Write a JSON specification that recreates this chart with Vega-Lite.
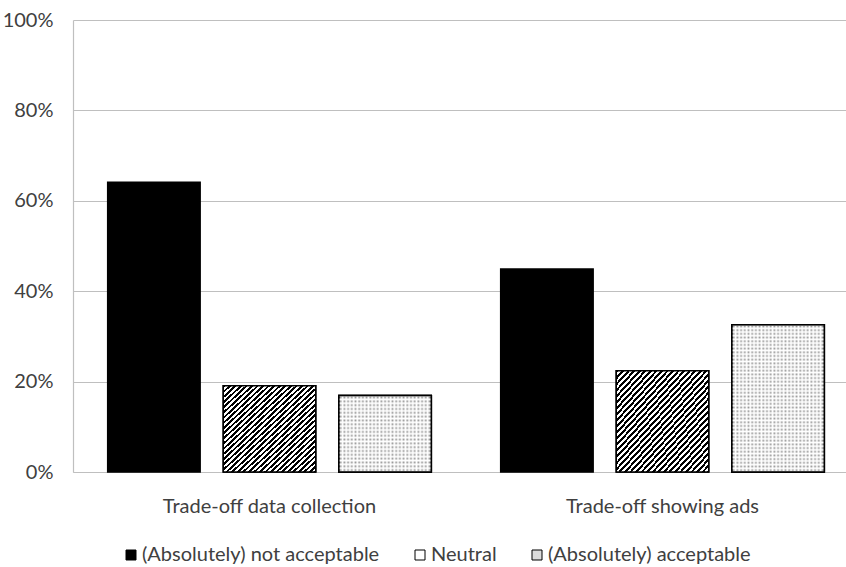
{
  "$schema": "https://vega.github.io/schema/vega-lite/v6.json",
  "width": 773,
  "height": 452,
  "autosize": {"type": "none"},
  "padding": {"left": 73, "top": 20, "right": 0, "bottom": 95},
  "background": "white",
  "config": {
    "view": {"stroke": null},
    "font": "Lato",
    "axis": {"labelFont": "Lato", "labelColor": "#404040", "labelFontSize": 20, "labelLimit": 400, "domainColor": "#bfbfbf", "gridColor": "#bfbfbf", "gridWidth": 1, "domainWidth": 1.2, "ticks": false},
    "legend": {"labelFont": "Lato", "labelColor": "#404040", "labelFontSize": 20, "labelLimit": 400, "padding": 0}
  },
  "data": {
    "values": [
      {"item": "Trade-off data collection", "response": "(Absolutely) not acceptable", "share": 0.641},
      {"item": "Trade-off data collection", "response": "Neutral", "share": 0.191},
      {"item": "Trade-off data collection", "response": "(Absolutely) acceptable", "share": 0.169},
      {"item": "Trade-off showing ads", "response": "(Absolutely) not acceptable", "share": 0.449},
      {"item": "Trade-off showing ads", "response": "Neutral", "share": 0.224},
      {"item": "Trade-off showing ads", "response": "(Absolutely) acceptable", "share": 0.326}
    ]
  },
  "encoding": {
    "x": {
      "field": "item", "type": "nominal", "sort": null, "title": null,
      "scale": {"range": [0, 786], "paddingInner": 0, "paddingOuter": 0},
      "axis": {"labelAngle": 0, "labelPadding": 24, "grid": false, "domain": true}
    },
    "xOffset": {
      "field": "response", "type": "nominal", "sort": null,
      "scale": {"domain": ["(Absolutely) not acceptable", "Neutral", "(Absolutely) acceptable"], "paddingInner": 0.2, "paddingOuter": 0.3}
    },
    "y": {
      "field": "share", "type": "quantitative", "title": null,
      "scale": {"domain": [0, 1], "nice": false},
      "axis": {"values": [0, 0.2, 0.4, 0.6, 0.8, 1], "format": ".0%", "grid": true, "domain": true, "labelPadding": 20}
    }
  },
  "layer": [
    {
      "mark": {"type": "bar", "strokeWidth": 1.5},
      "encoding": {
        "fill": {
          "field": "response", "type": "nominal",
          "scale": {"domain": ["(Absolutely) not acceptable", "Neutral", "(Absolutely) acceptable"], "range": ["black", "white", "#dcdcdc"]},
          "legend": {
            "orient": "none", "direction": "horizontal", "legendX": 48, "legendY": 525,
            "title": null, "symbolType": "square", "symbolSize": 100,
            "symbolStrokeWidth": 1, "symbolOpacity": 1,
            "labelOffset": 1, "columnPadding": 30
          }
        },
        "stroke": {
          "field": "response", "type": "nominal",
          "scale": {"domain": ["(Absolutely) not acceptable", "Neutral", "(Absolutely) acceptable"], "range": ["black", "black", "black"]},
          "legend": {
            "orient": "none", "direction": "horizontal", "legendX": 48, "legendY": 525,
            "title": null, "symbolType": "square", "symbolSize": 100,
            "symbolStrokeWidth": 1, "symbolOpacity": 1,
            "labelOffset": 1, "columnPadding": 30
          }
        }
      }
    },
    {
      "transform": [{"filter": "datum.response === 'Neutral'"}],
      "mark": {"type": "bar", "stroke": "black", "strokeWidth": 1.5,
        "fill": {"gradient": "linear", "x1": 0, "y1": 0, "x2": 1, "y2": 1, "stops": [
          {"offset": 0, "color": "black"}, {"offset": 0.015, "color": "black"}, {"offset": 0.015, "color": "white"}, {"offset": 0.03, "color": "white"},
          {"offset": 0.03, "color": "black"}, {"offset": 0.045, "color": "black"}, {"offset": 0.045, "color": "white"}, {"offset": 0.06, "color": "white"},
          {"offset": 0.06, "color": "black"}, {"offset": 0.075, "color": "black"}, {"offset": 0.075, "color": "white"}, {"offset": 0.09, "color": "white"},
          {"offset": 0.09, "color": "black"}, {"offset": 0.105, "color": "black"}, {"offset": 0.105, "color": "white"}, {"offset": 0.12, "color": "white"},
          {"offset": 0.12, "color": "black"}, {"offset": 0.135, "color": "black"}, {"offset": 0.135, "color": "white"}, {"offset": 0.15, "color": "white"},
          {"offset": 0.15, "color": "black"}, {"offset": 0.165, "color": "black"}, {"offset": 0.165, "color": "white"}, {"offset": 0.18, "color": "white"},
          {"offset": 0.18, "color": "black"}, {"offset": 0.195, "color": "black"}, {"offset": 0.195, "color": "white"}, {"offset": 0.21, "color": "white"},
          {"offset": 0.21, "color": "black"}, {"offset": 0.225, "color": "black"}, {"offset": 0.225, "color": "white"}, {"offset": 0.24, "color": "white"},
          {"offset": 0.24, "color": "black"}, {"offset": 0.255, "color": "black"}, {"offset": 0.255, "color": "white"}, {"offset": 0.27, "color": "white"},
          {"offset": 0.27, "color": "black"}, {"offset": 0.285, "color": "black"}, {"offset": 0.285, "color": "white"}, {"offset": 0.3, "color": "white"},
          {"offset": 0.3, "color": "black"}, {"offset": 0.315, "color": "black"}, {"offset": 0.315, "color": "white"}, {"offset": 0.33, "color": "white"},
          {"offset": 0.33, "color": "black"}, {"offset": 0.345, "color": "black"}, {"offset": 0.345, "color": "white"}, {"offset": 0.36, "color": "white"},
          {"offset": 0.36, "color": "black"}, {"offset": 0.375, "color": "black"}, {"offset": 0.375, "color": "white"}, {"offset": 0.39, "color": "white"},
          {"offset": 0.39, "color": "black"}, {"offset": 0.405, "color": "black"}, {"offset": 0.405, "color": "white"}, {"offset": 0.42, "color": "white"},
          {"offset": 0.42, "color": "black"}, {"offset": 0.435, "color": "black"}, {"offset": 0.435, "color": "white"}, {"offset": 0.45, "color": "white"},
          {"offset": 0.45, "color": "black"}, {"offset": 0.465, "color": "black"}, {"offset": 0.465, "color": "white"}, {"offset": 0.48, "color": "white"},
          {"offset": 0.48, "color": "black"}, {"offset": 0.495, "color": "black"}, {"offset": 0.495, "color": "white"}, {"offset": 0.51, "color": "white"},
          {"offset": 0.51, "color": "black"}, {"offset": 0.525, "color": "black"}, {"offset": 0.525, "color": "white"}, {"offset": 0.54, "color": "white"},
          {"offset": 0.54, "color": "black"}, {"offset": 0.555, "color": "black"}, {"offset": 0.555, "color": "white"}, {"offset": 0.57, "color": "white"},
          {"offset": 0.57, "color": "black"}, {"offset": 0.585, "color": "black"}, {"offset": 0.585, "color": "white"}, {"offset": 0.6, "color": "white"},
          {"offset": 0.6, "color": "black"}, {"offset": 0.615, "color": "black"}, {"offset": 0.615, "color": "white"}, {"offset": 0.63, "color": "white"},
          {"offset": 0.63, "color": "black"}, {"offset": 0.645, "color": "black"}, {"offset": 0.645, "color": "white"}, {"offset": 0.66, "color": "white"},
          {"offset": 0.66, "color": "black"}, {"offset": 0.675, "color": "black"}, {"offset": 0.675, "color": "white"}, {"offset": 0.69, "color": "white"},
          {"offset": 0.69, "color": "black"}, {"offset": 0.705, "color": "black"}, {"offset": 0.705, "color": "white"}, {"offset": 0.72, "color": "white"},
          {"offset": 0.72, "color": "black"}, {"offset": 0.735, "color": "black"}, {"offset": 0.735, "color": "white"}, {"offset": 0.75, "color": "white"},
          {"offset": 0.75, "color": "black"}, {"offset": 0.765, "color": "black"}, {"offset": 0.765, "color": "white"}, {"offset": 0.78, "color": "white"},
          {"offset": 0.78, "color": "black"}, {"offset": 0.795, "color": "black"}, {"offset": 0.795, "color": "white"}, {"offset": 0.81, "color": "white"},
          {"offset": 0.81, "color": "black"}, {"offset": 0.825, "color": "black"}, {"offset": 0.825, "color": "white"}, {"offset": 0.84, "color": "white"},
          {"offset": 0.84, "color": "black"}, {"offset": 0.855, "color": "black"}, {"offset": 0.855, "color": "white"}, {"offset": 0.87, "color": "white"},
          {"offset": 0.87, "color": "black"}, {"offset": 0.885, "color": "black"}, {"offset": 0.885, "color": "white"}, {"offset": 0.9, "color": "white"},
          {"offset": 0.9, "color": "black"}, {"offset": 0.915, "color": "black"}, {"offset": 0.915, "color": "white"}, {"offset": 0.93, "color": "white"},
          {"offset": 0.93, "color": "black"}, {"offset": 0.945, "color": "black"}, {"offset": 0.945, "color": "white"}, {"offset": 0.96, "color": "white"},
          {"offset": 0.96, "color": "black"}, {"offset": 0.975, "color": "black"}, {"offset": 0.975, "color": "white"}, {"offset": 0.99, "color": "white"},
          {"offset": 0.99, "color": "black"}, {"offset": 1, "color": "black"}
        ]}
      },
      "encoding": {}
    },
    {
      "transform": [{"filter": "datum.response === '(Absolutely) acceptable'"}],
      "mark": {"type": "bar", "stroke": "black", "strokeWidth": 1.5,
        "fill": {"gradient": "linear", "x1": 0, "y1": 0, "x2": 1, "y2": 0, "stops": [
          {"offset": 0, "color": "white"}, {"offset": 0.02, "color": "#999999"}, {"offset": 0.04, "color": "white"}, {"offset": 0.06, "color": "#999999"},
          {"offset": 0.08, "color": "white"}, {"offset": 0.1, "color": "#999999"}, {"offset": 0.12, "color": "white"}, {"offset": 0.14, "color": "#999999"},
          {"offset": 0.16, "color": "white"}, {"offset": 0.18, "color": "#999999"}, {"offset": 0.2, "color": "white"}, {"offset": 0.22, "color": "#999999"},
          {"offset": 0.24, "color": "white"}, {"offset": 0.26, "color": "#999999"}, {"offset": 0.28, "color": "white"}, {"offset": 0.3, "color": "#999999"},
          {"offset": 0.32, "color": "white"}, {"offset": 0.34, "color": "#999999"}, {"offset": 0.36, "color": "white"}, {"offset": 0.38, "color": "#999999"},
          {"offset": 0.4, "color": "white"}, {"offset": 0.42, "color": "#999999"}, {"offset": 0.44, "color": "white"}, {"offset": 0.46, "color": "#999999"},
          {"offset": 0.48, "color": "white"}, {"offset": 0.5, "color": "#999999"}, {"offset": 0.52, "color": "white"}, {"offset": 0.54, "color": "#999999"},
          {"offset": 0.56, "color": "white"}, {"offset": 0.58, "color": "#999999"}, {"offset": 0.6, "color": "white"}, {"offset": 0.62, "color": "#999999"},
          {"offset": 0.64, "color": "white"}, {"offset": 0.66, "color": "#999999"}, {"offset": 0.68, "color": "white"}, {"offset": 0.7, "color": "#999999"},
          {"offset": 0.72, "color": "white"}, {"offset": 0.74, "color": "#999999"}, {"offset": 0.76, "color": "white"}, {"offset": 0.78, "color": "#999999"},
          {"offset": 0.8, "color": "white"}, {"offset": 0.82, "color": "#999999"}, {"offset": 0.84, "color": "white"}, {"offset": 0.86, "color": "#999999"},
          {"offset": 0.88, "color": "white"}, {"offset": 0.9, "color": "#999999"}, {"offset": 0.92, "color": "white"}, {"offset": 0.94, "color": "#999999"},
          {"offset": 0.96, "color": "white"}, {"offset": 0.98, "color": "#999999"}, {"offset": 1, "color": "white"}
        ]}
      },
      "encoding": {}
    },
    {
      "transform": [{"filter": "datum.response === '(Absolutely) acceptable' && datum.item === 'Trade-off data collection'"}],
      "mark": {"type": "bar", "stroke": "black", "strokeWidth": 1.5,
        "fill": {"gradient": "linear", "x1": 0, "y1": 0, "x2": 0, "y2": 1, "stops": [
          {"offset": 0, "color": "white"}, {"offset": 0.025, "color": "rgba(255,255,255,0)"}, {"offset": 0.05, "color": "white"}, {"offset": 0.075, "color": "rgba(255,255,255,0)"},
          {"offset": 0.1, "color": "white"}, {"offset": 0.125, "color": "rgba(255,255,255,0)"}, {"offset": 0.15, "color": "white"}, {"offset": 0.175, "color": "rgba(255,255,255,0)"},
          {"offset": 0.2, "color": "white"}, {"offset": 0.225, "color": "rgba(255,255,255,0)"}, {"offset": 0.25, "color": "white"}, {"offset": 0.275, "color": "rgba(255,255,255,0)"},
          {"offset": 0.3, "color": "white"}, {"offset": 0.325, "color": "rgba(255,255,255,0)"}, {"offset": 0.35, "color": "white"}, {"offset": 0.375, "color": "rgba(255,255,255,0)"},
          {"offset": 0.4, "color": "white"}, {"offset": 0.425, "color": "rgba(255,255,255,0)"}, {"offset": 0.45, "color": "white"}, {"offset": 0.475, "color": "rgba(255,255,255,0)"},
          {"offset": 0.5, "color": "white"}, {"offset": 0.525, "color": "rgba(255,255,255,0)"}, {"offset": 0.55, "color": "white"}, {"offset": 0.575, "color": "rgba(255,255,255,0)"},
          {"offset": 0.6, "color": "white"}, {"offset": 0.625, "color": "rgba(255,255,255,0)"}, {"offset": 0.65, "color": "white"}, {"offset": 0.675, "color": "rgba(255,255,255,0)"},
          {"offset": 0.7, "color": "white"}, {"offset": 0.725, "color": "rgba(255,255,255,0)"}, {"offset": 0.75, "color": "white"}, {"offset": 0.775, "color": "rgba(255,255,255,0)"},
          {"offset": 0.8, "color": "white"}, {"offset": 0.825, "color": "rgba(255,255,255,0)"}, {"offset": 0.85, "color": "white"}, {"offset": 0.875, "color": "rgba(255,255,255,0)"},
          {"offset": 0.9, "color": "white"}, {"offset": 0.925, "color": "rgba(255,255,255,0)"}, {"offset": 0.95, "color": "white"}, {"offset": 0.975, "color": "rgba(255,255,255,0)"},
          {"offset": 1, "color": "white"}
        ]}
      },
      "encoding": {}
    },
    {
      "transform": [{"filter": "datum.response === '(Absolutely) acceptable' && datum.item === 'Trade-off showing ads'"}],
      "mark": {"type": "bar", "stroke": "black", "strokeWidth": 1.5,
        "fill": {"gradient": "linear", "x1": 0, "y1": 0, "x2": 0, "y2": 1, "stops": [
          {"offset": 0, "color": "white"}, {"offset": 0.0125, "color": "rgba(255,255,255,0)"}, {"offset": 0.025, "color": "white"}, {"offset": 0.0375, "color": "rgba(255,255,255,0)"},
          {"offset": 0.05, "color": "white"}, {"offset": 0.0625, "color": "rgba(255,255,255,0)"}, {"offset": 0.075, "color": "white"}, {"offset": 0.0875, "color": "rgba(255,255,255,0)"},
          {"offset": 0.1, "color": "white"}, {"offset": 0.1125, "color": "rgba(255,255,255,0)"}, {"offset": 0.125, "color": "white"}, {"offset": 0.1375, "color": "rgba(255,255,255,0)"},
          {"offset": 0.15, "color": "white"}, {"offset": 0.1625, "color": "rgba(255,255,255,0)"}, {"offset": 0.175, "color": "white"}, {"offset": 0.1875, "color": "rgba(255,255,255,0)"},
          {"offset": 0.2, "color": "white"}, {"offset": 0.2125, "color": "rgba(255,255,255,0)"}, {"offset": 0.225, "color": "white"}, {"offset": 0.2375, "color": "rgba(255,255,255,0)"},
          {"offset": 0.25, "color": "white"}, {"offset": 0.2625, "color": "rgba(255,255,255,0)"}, {"offset": 0.275, "color": "white"}, {"offset": 0.2875, "color": "rgba(255,255,255,0)"},
          {"offset": 0.3, "color": "white"}, {"offset": 0.3125, "color": "rgba(255,255,255,0)"}, {"offset": 0.325, "color": "white"}, {"offset": 0.3375, "color": "rgba(255,255,255,0)"},
          {"offset": 0.35, "color": "white"}, {"offset": 0.3625, "color": "rgba(255,255,255,0)"}, {"offset": 0.375, "color": "white"}, {"offset": 0.3875, "color": "rgba(255,255,255,0)"},
          {"offset": 0.4, "color": "white"}, {"offset": 0.4125, "color": "rgba(255,255,255,0)"}, {"offset": 0.425, "color": "white"}, {"offset": 0.4375, "color": "rgba(255,255,255,0)"},
          {"offset": 0.45, "color": "white"}, {"offset": 0.4625, "color": "rgba(255,255,255,0)"}, {"offset": 0.475, "color": "white"}, {"offset": 0.4875, "color": "rgba(255,255,255,0)"},
          {"offset": 0.5, "color": "white"}, {"offset": 0.5125, "color": "rgba(255,255,255,0)"}, {"offset": 0.525, "color": "white"}, {"offset": 0.5375, "color": "rgba(255,255,255,0)"},
          {"offset": 0.55, "color": "white"}, {"offset": 0.5625, "color": "rgba(255,255,255,0)"}, {"offset": 0.575, "color": "white"}, {"offset": 0.5875, "color": "rgba(255,255,255,0)"},
          {"offset": 0.6, "color": "white"}, {"offset": 0.6125, "color": "rgba(255,255,255,0)"}, {"offset": 0.625, "color": "white"}, {"offset": 0.6375, "color": "rgba(255,255,255,0)"},
          {"offset": 0.65, "color": "white"}, {"offset": 0.6625, "color": "rgba(255,255,255,0)"}, {"offset": 0.675, "color": "white"}, {"offset": 0.6875, "color": "rgba(255,255,255,0)"},
          {"offset": 0.7, "color": "white"}, {"offset": 0.7125, "color": "rgba(255,255,255,0)"}, {"offset": 0.725, "color": "white"}, {"offset": 0.7375, "color": "rgba(255,255,255,0)"},
          {"offset": 0.75, "color": "white"}, {"offset": 0.7625, "color": "rgba(255,255,255,0)"}, {"offset": 0.775, "color": "white"}, {"offset": 0.7875, "color": "rgba(255,255,255,0)"},
          {"offset": 0.8, "color": "white"}, {"offset": 0.8125, "color": "rgba(255,255,255,0)"}, {"offset": 0.825, "color": "white"}, {"offset": 0.8375, "color": "rgba(255,255,255,0)"},
          {"offset": 0.85, "color": "white"}, {"offset": 0.8625, "color": "rgba(255,255,255,0)"}, {"offset": 0.875, "color": "white"}, {"offset": 0.8875, "color": "rgba(255,255,255,0)"},
          {"offset": 0.9, "color": "white"}, {"offset": 0.9125, "color": "rgba(255,255,255,0)"}, {"offset": 0.925, "color": "white"}, {"offset": 0.9375, "color": "rgba(255,255,255,0)"},
          {"offset": 0.95, "color": "white"}, {"offset": 0.9625, "color": "rgba(255,255,255,0)"}, {"offset": 0.975, "color": "white"}, {"offset": 0.9875, "color": "rgba(255,255,255,0)"},
          {"offset": 1, "color": "white"}
        ]}
      },
      "encoding": {}
    }
  ]
}
